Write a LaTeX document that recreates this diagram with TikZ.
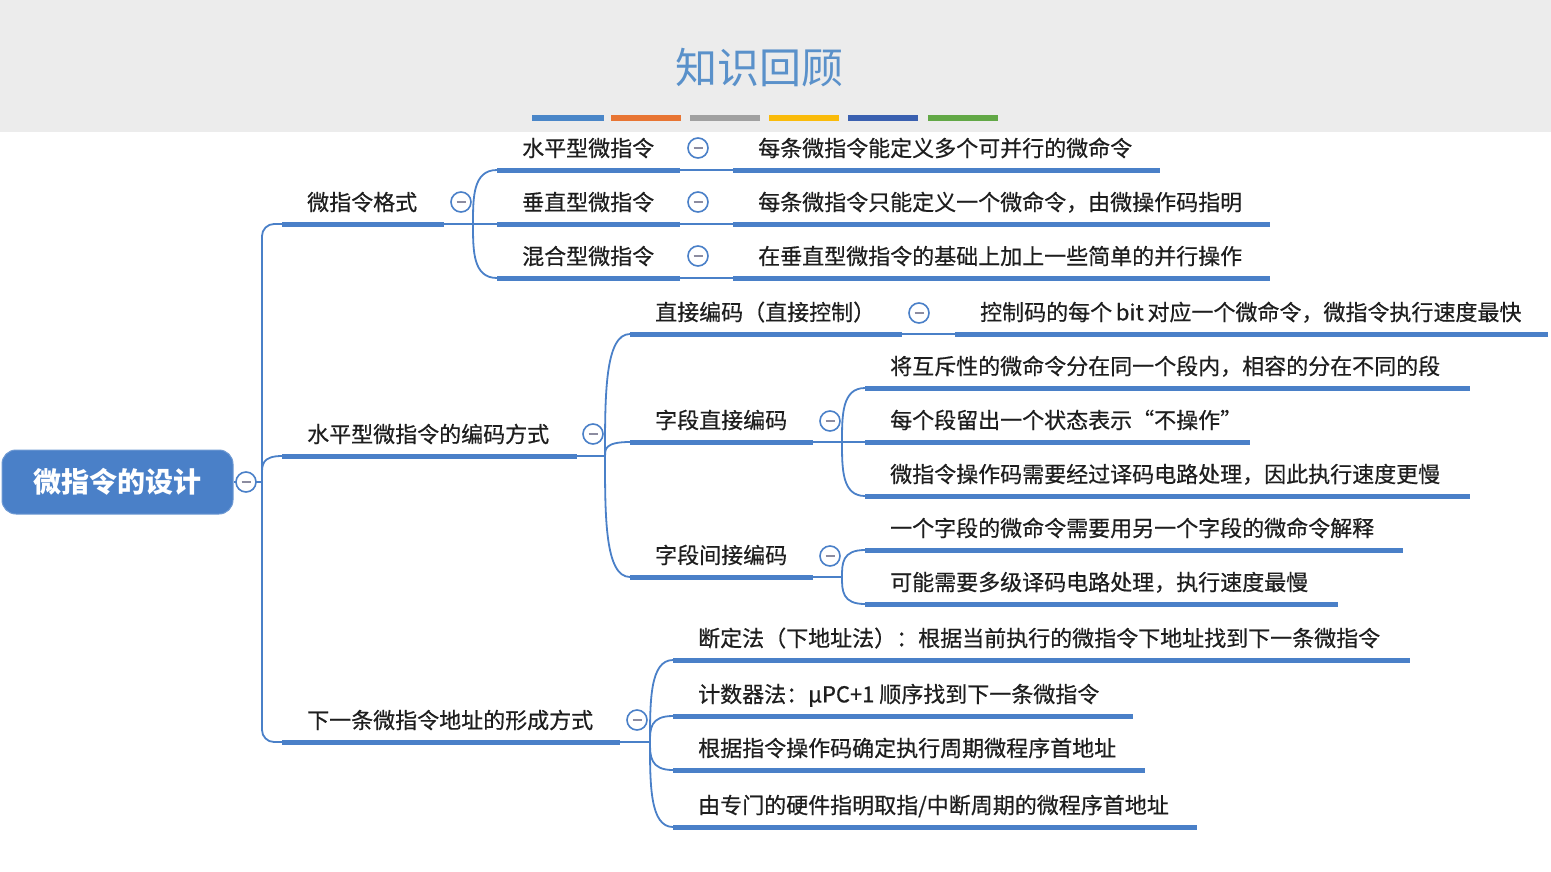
\documentclass[tikz,border=0pt]{standalone}
\usepackage{fontspec}
\setmainfont{Noto Sans CJK SC}
\newfontfamily\lblfont[FakeBold=0.5]{Noto Sans CJK SC}
\usetikzlibrary{calc}
\definecolor{mblue}{RGB}{74,128,200}
\definecolor{txtc}{RGB}{30,30,30}
\definecolor{ttlc}{RGB}{90,145,202}
\definecolor{hdrbg}{RGB}{236,236,236}
\definecolor{foldm}{RGB}{140,140,160}
\definecolor{barA}{RGB}{74,134,200}
\definecolor{barB}{RGB}{232,117,51}
\definecolor{barC}{RGB}{160,160,160}
\definecolor{barD}{RGB}{250,187,10}
\definecolor{barE}{RGB}{58,96,176}
\definecolor{barF}{RGB}{98,168,70}
\tikzset{
  ul/.style={draw=mblue, line width=5pt},
  conn/.style={draw=mblue, line width=1.8pt},
  lbl/.style={anchor=west, inner sep=0pt, text=txtc, font=\lblfont\fontsize{22}{26}\selectfont, text height=19.4pt, text depth=2.6pt},
  fold/.style={circle, draw=mblue, line width=1.6pt, fill=white, minimum size=20pt, inner sep=0pt,
    path picture={\draw[draw=foldm, line width=2.2pt] ($(path picture bounding box.center)+(-4.5,0)$) -- ($(path picture bounding box.center)+(4.5,0)$);}},
  rootbox/.style={rectangle, rounded corners=14pt, fill=mblue, draw=mblue!80!white, line width=1pt, minimum width=231pt, minimum height=64pt, inner sep=0pt, text=white, font=\fontsize{28}{32}\selectfont\bfseries, text height=24.6pt, text depth=3.4pt},
  colbar/.style={line width=6pt},
}
\newcommand\mtopic[5]{%
  \coordinate (#1s) at (#2,#4);
  \coordinate (#1e) at (#3,#4);
  \draw[ul] (#1s) -- (#1e);
  \node[lbl] (#1) at ($(#1s)+(25,-22)$) {#5};}
\newcommand\mbranch[2]{\draw[conn] (#1) .. controls ($(#1)!0.5!(#1|-#2)$) and (#1|-#2) .. (#2);}
\begin{document}
\begin{tikzpicture}[x=1pt,y=-1pt]
\useasboundingbox (0,0) rectangle (1551,871);
\fill[white] (0,0) rectangle (1551,871);
% header
\fill[hdrbg] (0,0) rectangle (1551,132);
\node[anchor=center, inner sep=0pt, text=ttlc, font=\fontsize{42}{46}\selectfont, text height=37pt, text depth=5pt] (title) at (759,67) {知识回顾};
\draw[colbar, draw=barA] (532,118) -- (604,118);
\draw[colbar, draw=barB] (611,118) -- (681,118);
\draw[colbar, draw=barC] (690,118) -- (760,118);
\draw[colbar, draw=barD] (769,118) -- (839,118);
\draw[colbar, draw=barE] (848,118) -- (918,118);
\draw[colbar, draw=barF] (928,118) -- (998,118);

% topics
\mtopic{La}{282}{444}{224}{微指令格式}
\mtopic{ha}{497}{680}{170}{水平型微指令}
\mtopic{da}{733}{1160}{170}{每条微指令能定义多个可并行的微命令}
\mtopic{hb}{497}{680}{224}{垂直型微指令}
\mtopic{db}{733}{1270}{224}{每条微指令只能定义一个微命令，由微操作码指明}
\mtopic{hc}{497}{680}{278}{混合型微指令}
\mtopic{dc}{733}{1270}{278}{在垂直型微指令的基础上加上一些简单的并行操作}

\mtopic{Lb}{282}{577}{456}{水平型微指令的编码方式}
\mtopic{ca}{630}{902}{334}{直接编码（直接控制）}
\mtopic{cad}{955}{1548}{334}{控制码的每个\,bit\,对应一个微命令，微指令执行速度最快}
\mtopic{cb}{630}{813}{442}{字段直接编码}
\mtopic{ea}{865}{1470}{388}{将互斥性的微命令分在同一个段内，相容的分在不同的段}
\mtopic{eb}{865}{1250}{442}{每个段留出一个状态表示“不操作”}
\mtopic{ec}{865}{1470}{496}{微指令操作码需要经过译码电路处理，因此执行速度更慢}
\mtopic{cc}{630}{813}{577}{字段间接编码}
\mtopic{ga}{865}{1403}{550}{一个字段的微命令需要用另一个字段的微命令解释}
\mtopic{gb}{865}{1338}{604}{可能需要多级译码电路处理，执行速度最慢}

\mtopic{Lc}{282}{620}{742}{下一条微指令地址的形成方式}
\mtopic{ka}{673}{1410}{660}{断定法（下地址法）：根据当前执行的微指令下地址找到下一条微指令}
\mtopic{kb}{673}{1133}{716}{计数器法：μPC+1 顺序找到下一条微指令}
\mtopic{kc}{673}{1145}{770}{根据指令操作码确定执行周期微程序首地址}
\mtopic{kd}{673}{1197}{827}{由专门的硬件指明取指/中断周期的微程序首地址}

% root and trunk
\node[rootbox] (root) at (117.5,482) {微指令的设计};
\coordinate (T) at (262,482);
\coordinate (Tb) at (262,474);
\draw[conn] (root.east) -- (T);
\draw[conn, rounded corners=12pt] (Las) -| (T) |- (Lcs);
\mbranch{Tb}{Lbs}

% group A
\coordinate (bA) at (473,224);
\draw[conn] (Lae) -- (bA) -- (hbs);
\mbranch{bA}{has}
\mbranch{bA}{hcs}
\draw[conn] (hae) -- (das);
\draw[conn] (hbe) -- (dbs);
\draw[conn] (hce) -- (dcs);

% group B
\coordinate (bB) at (605,456);
\draw[conn] (Lbe) -- (bB);
\mbranch{bB}{cas}
\mbranch{bB}{cbs}
\mbranch{bB}{ccs}
\draw[conn] (cae) -- (cads);

% group C
\coordinate (bC) at (842,442);
\draw[conn] (cbe) -- (bC) -- (ebs);
\mbranch{bC}{eas}
\mbranch{bC}{ecs}

% group D
\coordinate (bD) at (842,577);
\draw[conn] (cce) -- (bD);
\mbranch{bD}{gas}
\mbranch{bD}{gbs}

% group E
\coordinate (bE) at (650,742);
\draw[conn] (Lce) -- (bE);
\mbranch{bE}{kas}
\mbranch{bE}{kbs}
\mbranch{bE}{kcs}
\mbranch{bE}{kds}

% fold markers
\node[fold] (f0) at (246,482) {};
\node[fold] (fA) at (461,202) {};
\node[fold] (fa1) at (698,148) {};
\node[fold] (fa2) at (698,202) {};
\node[fold] (fa3) at (698,256) {};
\node[fold] (fB) at (593,434) {};
\node[fold] (fb1) at (919,313) {};
\node[fold] (fb2) at (830,421) {};
\node[fold] (fb3) at (830,556) {};
\node[fold] (fC) at (637,720) {};
\end{tikzpicture}
\end{document}
